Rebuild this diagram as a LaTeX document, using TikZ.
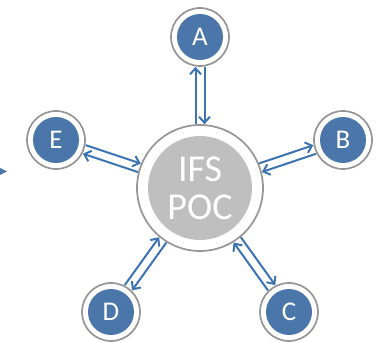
\documentclass[tikz,border=0pt]{standalone}
\usepackage{fontspec}
\setmainfont{Carlito}
\usetikzlibrary{arrows.meta}

\definecolor{nodeblue}{HTML}{4A76A9}
\definecolor{linkblue}{HTML}{3C73B2}
\definecolor{hubgray}{HTML}{BFBFBF}
\definecolor{ringgray}{HTML}{959595}

\tikzset{
  ring/.style={circle, fill=white, draw=ringgray, line width=1.7pt, inner sep=0pt},
  hub/.style={ring, minimum size=126pt},
  hubcore/.style={circle, fill=hubgray, minimum size=104pt, inner sep=0pt, text=white, align=center, font=\fontsize{38}{40}\selectfont},
  site/.style={ring, minimum size=58pt},
  sitecore/.style={circle, fill=nodeblue, minimum size=46pt, inner sep=0pt, text=white, font=\fontsize{27}{27}\selectfont},
  link/.style={draw=linkblue, line width=2pt, -{Straight Barb[length=6pt,width=11pt]}}
}

\begin{document}
\begin{tikzpicture}[x=1pt,y=1pt]
     \useasboundingbox (0,0) rectangle (386,343);

     %Hub
     \node[hub]     (hub)      at (200,155) {};
     \node[hubcore] (hub-core) at (hub) {IFS\\[-2pt]POC};

     %Sites
     \node[site]     (a)      at (200,306) {};
     \node[sitecore] (a-core) at (a) {A};
     \node[site]     (b)      at (343,203) {};
     \node[sitecore] (b-core) at (b) {B};
     \node[site]     (c)      at (289,31) {};
     \node[sitecore] (c-core) at (c) {C};
     \node[site]     (d)      at (111,31) {};
     \node[sitecore] (d-core) at (d) {D};
     \node[site]     (e)      at (56,203) {};
     \node[sitecore] (e-core) at (e) {E};

     %Links
     \draw[link, transform canvas={shift={(180:4.5pt)}}] (hub) -- (a);
     \draw[link, transform canvas={shift={(0:4.5pt)}}]   (a) -- (hub);
     \draw[link, transform canvas={shift={(108:4.5pt)}}] (hub) -- (b);
     \draw[link, transform canvas={shift={(-72:4.5pt)}}] (b) -- (hub);
     \draw[link, transform canvas={shift={(36:4.5pt)}}]  (hub) -- (c);
     \draw[link, transform canvas={shift={(216:4.5pt)}}] (c) -- (hub);
     \draw[link, transform canvas={shift={(324:4.5pt)}}] (hub) -- (d);
     \draw[link, transform canvas={shift={(144:4.5pt)}}] (d) -- (hub);
     \draw[link, transform canvas={shift={(252:4.5pt)}}] (hub) -- (e);
     \draw[link, transform canvas={shift={(72:4.5pt)}}]  (e) -- (hub);

     %Edge marker
     \fill[nodeblue] (0,175) -- (7,171.5) -- (0,168) -- cycle;
\end{tikzpicture}
\end{document}
